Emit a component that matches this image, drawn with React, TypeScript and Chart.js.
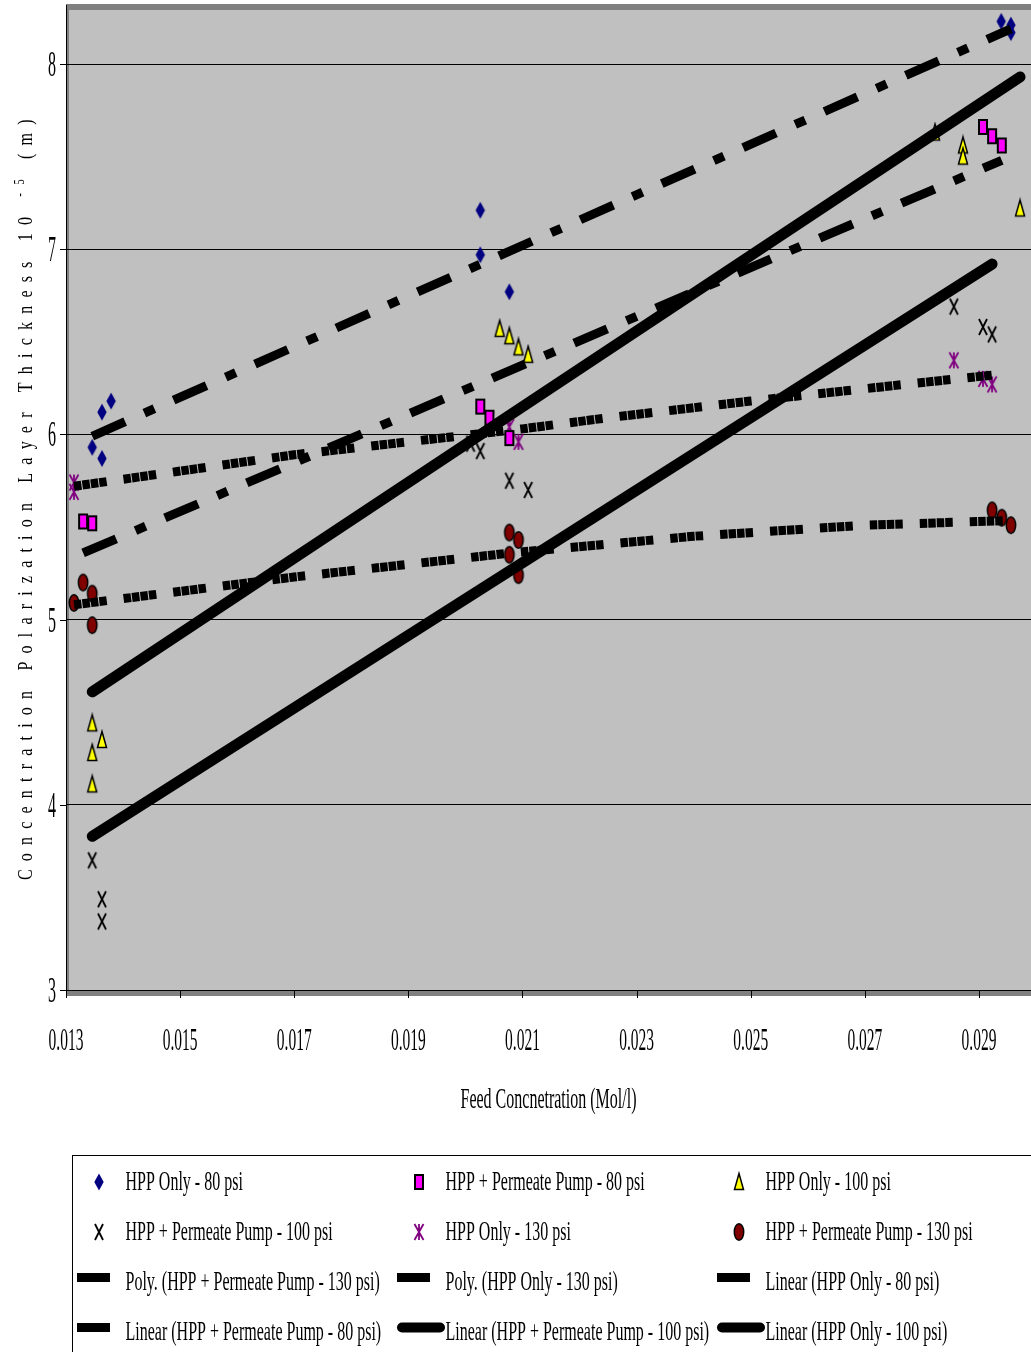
import React, { useEffect, useRef } from "react";
import { Chart, registerables } from "chart.js";

Chart.register(...registerables);

// Axis ticks
const X_TICKS = [0.013, 0.015, 0.017, 0.019, 0.021, 0.023, 0.025, 0.027, 0.029];
const X_TICK_LABELS = ["0.013", "0.015", "0.017", "0.019", "0.021", "0.023", "0.025", "0.027", "0.029"];
const Y_TICKS = [3, 4, 5, 6, 7, 8];
const Y_TICK_LABELS = ["3", "4", "5", "6", "7", "8"];

const X_TITLE = "Feed Concnetration (Mol/l)";
const Y_TITLE_MAIN = "Concentration Polarization Layer Thickness 10 ";
const Y_TITLE_SUP = "-5";
const Y_TITLE_END = " (m)";

// Measured series: feed concentration (Mol/l) vs layer thickness (10^-5 m)
const hppOnly80X = [0.01346, 0.01363, 0.01363, 0.01379, 0.02026, 0.02026, 0.02077, 0.02939, 0.02956, 0.02956];
const hppOnly80Y = [5.93, 5.87, 6.12, 6.18, 7.21, 6.97, 6.77, 8.23, 8.21, 8.17];

const hppPp80X = [0.0133, 0.01346, 0.02026, 0.02042, 0.02077, 0.02907, 0.02923, 0.0294];
const hppPp80Y = [5.53, 5.52, 6.15, 6.09, 5.98, 7.66, 7.61, 7.56];

const hppOnly100X = [0.01346, 0.01363, 0.01346, 0.01346, 0.0206, 0.02077, 0.02093, 0.0211, 0.02823, 0.02872, 0.02872, 0.02972];
const hppOnly100Y = [4.44, 4.35, 4.28, 4.11, 6.57, 6.53, 6.47, 6.43, 7.63, 7.56, 7.5, 7.22];

const hppPp100X = [0.01346, 0.01363, 0.01363, 0.02009, 0.02026, 0.02077, 0.0211, 0.02856, 0.02907, 0.02923];
const hppPp100Y = [3.7, 3.49, 3.37, 5.95, 5.91, 5.75, 5.7, 6.69, 6.58, 6.54];

const hppOnly130X = [0.01314, 0.01314, 0.02042, 0.02077, 0.02093, 0.02856, 0.02907, 0.02923];
const hppOnly130Y = [5.74, 5.69, 6.08, 6.04, 5.96, 6.4, 6.3, 6.27];

const hppPp130X = [0.01314, 0.0133, 0.01346, 0.01346, 0.02077, 0.02093, 0.02077, 0.02093, 0.02923, 0.0294, 0.02956];
const hppPp130Y = [5.09, 5.2, 5.14, 4.97, 5.47, 5.43, 5.35, 5.24, 5.59, 5.55, 5.51];

// Trend lines
const polyPp130X = [0.01314, 0.017, 0.0208, 0.024, 0.027, 0.02956];
const polyPp130Y = [5.08, 5.23, 5.36, 5.45, 5.51, 5.535];

const polyOnly130X = [0.01314, 0.017, 0.021, 0.0225, 0.025, 0.0277, 0.02923];
const polyOnly130Y = [5.72, 5.89, 6.03, 6.09, 6.18, 6.27, 6.32];

const linOnly80X = [0.01346, 0.02956];
const linOnly80Y = [5.99, 8.19];

const linPp80X = [0.0133, 0.0294];
const linPp80Y = [5.36, 7.48];

const linPp100X = [0.01346, 0.02923];
const linPp100Y = [3.83, 6.92];

const linOnly100X = [0.01346, 0.02972];
const linOnly100Y = [4.61, 7.93];

const SERIES_LABELS = [
  "HPP Only - 80 psi",
  "HPP + Permeate Pump - 80 psi",
  "HPP Only - 100 psi",
  "HPP + Permeate Pump - 100 psi",
  "HPP Only - 130 psi",
  "HPP + Permeate Pump - 130 psi",
  "Poly. (HPP + Permeate Pump - 130 psi)",
  "Poly. (HPP Only - 130 psi)",
  "Linear (HPP Only - 80 psi)",
  "Linear (HPP + Permeate Pump - 80 psi)",
  "Linear (HPP + Permeate Pump - 100 psi)",
  "Linear (HPP Only - 100 psi)",
];

const SERIES_X = [hppOnly80X, hppPp80X, hppOnly100X, hppPp100X, hppOnly130X, hppPp130X, polyPp130X, polyOnly130X, linOnly80X, linPp80X, linPp100X, linOnly100X];
const SERIES_Y = [hppOnly80Y, hppPp80Y, hppOnly100Y, hppPp100Y, hppOnly130Y, hppPp130Y, polyPp130Y, polyOnly130Y, linOnly80Y, linPp80Y, linPp100Y, linOnly100Y];

// Drawing styles
const MARKERS = ["diamond", "square", "triangle", "cross", "star", "circle"];
const LINE_STYLES = ["dotted", "dotted", "dashdot", "dashdot", "solid", "solid"];

const SERIF = "'Liberation Serif', 'Times New Roman', serif";
const PLOT_BG = "#C0C0C0";
const BAND = "#808080";

function makeMarker(kind: string): HTMLCanvasElement {
  const c = document.createElement("canvas");
  const w = 14;
  const h = 22;
  c.width = w;
  c.height = h;
  const g = c.getContext("2d")!;
  const cx = w / 2;
  const cy = h / 2;
  switch (kind) {
    case "diamond":
      g.beginPath();
      g.moveTo(cx, cy - 8.5);
      g.lineTo(cx + 4.7, cy);
      g.lineTo(cx, cy + 8.5);
      g.lineTo(cx - 4.7, cy);
      g.closePath();
      g.fillStyle = "#000080";
      g.fill();
      break;
    case "square":
      g.fillStyle = "#FF00FF";
      g.fillRect(cx - 4, cy - 7, 8, 14);
      g.lineWidth = 2;
      g.strokeStyle = "#000";
      g.strokeRect(cx - 4, cy - 7, 8, 14);
      break;
    case "triangle":
      g.beginPath();
      g.moveTo(cx, cy - 8.5);
      g.lineTo(cx + 4.5, cy + 7.5);
      g.lineTo(cx - 4.5, cy + 7.5);
      g.closePath();
      g.fillStyle = "#FFFF00";
      g.fill();
      g.lineWidth = 1.5;
      g.strokeStyle = "#000";
      g.stroke();
      break;
    case "cross":
      g.beginPath();
      g.moveTo(cx - 4, cy - 8);
      g.lineTo(cx + 4, cy + 8);
      g.moveTo(cx + 4, cy - 8);
      g.lineTo(cx - 4, cy + 8);
      g.lineWidth = 1.8;
      g.strokeStyle = "#000";
      g.stroke();
      break;
    case "star":
      g.beginPath();
      g.moveTo(cx - 4.5, cy - 8);
      g.lineTo(cx + 4.5, cy + 8);
      g.moveTo(cx + 4.5, cy - 8);
      g.lineTo(cx - 4.5, cy + 8);
      g.moveTo(cx, cy - 8);
      g.lineTo(cx, cy + 8);
      g.lineWidth = 1.8;
      g.strokeStyle = "#800080";
      g.stroke();
      break;
    case "circle":
      g.beginPath();
      g.ellipse(cx, cy, 4.7, 8.2, 0, 0, Math.PI * 2);
      g.fillStyle = "#800000";
      g.fill();
      g.lineWidth = 1.5;
      g.strokeStyle = "#000";
      g.stroke();
      break;
  }
  return c;
}

function dashFor(style: string): number[] {
  if (style === "dotted") return [7.5, 1, 7.5, 1, 7.5, 1, 7.5, 17];
  if (style === "dashdot") return [36, 21, 11, 21];
  return [];
}

function stretchedText(
  ctx: CanvasRenderingContext2D,
  text: string,
  x: number,
  y: number,
  size: number,
  ky: number,
  align: CanvasTextAlign
) {
  ctx.save();
  ctx.font = `${size}px ${SERIF}`;
  ctx.fillStyle = "#000";
  ctx.textAlign = align;
  ctx.textBaseline = "alphabetic";
  ctx.translate(x, y);
  ctx.scale(1, ky);
  ctx.fillText(text, 0, 0);
  ctx.restore();
}

export default function App() {
  const canvasRef = useRef<HTMLCanvasElement | null>(null);

  useEffect(() => {
    const canvas = canvasRef.current;
    if (!canvas) return;

    const markerImgs = MARKERS.map(makeMarker);

    const datasets: any[] = SERIES_LABELS.map((label, i) => {
      const data = SERIES_X[i].map((x, j) => ({ x, y: SERIES_Y[i][j] }));
      if (i < MARKERS.length) {
        return {
          label,
          data,
          showLine: false,
          pointStyle: markerImgs[i],
          pointRadius: 5,
          pointHoverRadius: 5,
          order: 1,
        };
      }
      const style = LINE_STYLES[i - MARKERS.length];
      return {
        label,
        data,
        showLine: true,
        borderColor: "#000",
        backgroundColor: "#000",
        borderWidth: style === "solid" ? 11 : 9,
        borderDash: dashFor(style),
        borderCapStyle: style === "solid" ? "round" : "butt",
        tension: 0,
        pointRadius: 0,
        pointHoverRadius: 0,
        order: 0,
        _lineStyle: style,
      };
    });

    const decor = {
      id: "decor",
      beforeDraw(chart: any) {
        const { ctx, chartArea: a } = chart;
        ctx.save();
        ctx.fillStyle = "#fff";
        ctx.fillRect(0, 0, chart.width, chart.height);
        ctx.fillStyle = PLOT_BG;
        ctx.fillRect(a.left, a.top, a.right - a.left, a.bottom - a.top);
        ctx.fillStyle = BAND;
        ctx.fillRect(a.left, 4, a.right - a.left, 6);
        ctx.fillRect(a.left, 4, 3, a.bottom - 4);
        ctx.fillRect(a.left, a.bottom + 1, a.right - a.left, 5);
        ctx.restore();
      },
      afterDraw(chart: any) {
        const { ctx, chartArea: a } = chart;
        const xs = chart.scales.x;
        const ys = chart.scales.y;
        ctx.save();
        // tick marks
        ctx.strokeStyle = "#000";
        ctx.lineWidth = 1;
        ctx.beginPath();
        X_TICKS.forEach((v) => {
          const px = Math.round(xs.getPixelForValue(v)) + 0.5;
          ctx.moveTo(px, a.bottom);
          ctx.lineTo(px, a.bottom + 8);
        });
        Y_TICKS.forEach((v) => {
          const py = Math.round(ys.getPixelForValue(v)) + 0.5;
          ctx.moveTo(a.left - 6, py);
          ctx.lineTo(a.left, py);
        });
        ctx.stroke();
        ctx.restore();

        // tick labels
        X_TICKS.forEach((v, i) => {
          stretchedText(ctx, X_TICK_LABELS[i], xs.getPixelForValue(v), 1050, 15.5, 2.1, "center");
        });
        Y_TICKS.forEach((v, i) => {
          stretchedText(ctx, Y_TICK_LABELS[i], 56, ys.getPixelForValue(v) + 12, 16, 2.2, "right");
        });

        // axis titles
        stretchedText(ctx, X_TITLE, (a.left + a.right) / 2, 1108, 16, 1.9, "center");

        ctx.save();
        ctx.translate(32, 880);
        ctx.rotate(-Math.PI / 2);
        ctx.scale(1, 1.35);
        ctx.fillStyle = "#000";
        ctx.textBaseline = "alphabetic";
        ctx.textAlign = "left";
        const spacing = 8.2;
        let pos = 0;
        ctx.font = `16px ${SERIF}`;
        for (const ch of Y_TITLE_MAIN) {
          ctx.fillText(ch, pos, 0);
          pos += ctx.measureText(ch).width + spacing;
        }
        ctx.font = `11px ${SERIF}`;
        for (const ch of Y_TITLE_SUP) {
          ctx.fillText(ch, pos, -6);
          pos += ctx.measureText(ch).width + spacing;
        }
        ctx.font = `16px ${SERIF}`;
        for (const ch of Y_TITLE_END) {
          ctx.fillText(ch, pos, 0);
          pos += ctx.measureText(ch).width + spacing;
        }
        ctx.restore();

        // legend
        ctx.save();
        ctx.strokeStyle = "#000";
        ctx.lineWidth = 1;
        ctx.strokeRect(72.5, 1155.5, 1100, 300);
        ctx.restore();

        const colX = [99, 419, 739];
        const rowY = [1182, 1232, 1282, 1332];
        chart.data.datasets.forEach((ds: any, i: number) => {
          const cx = colX[i % 3];
          const cy = rowY[Math.floor(i / 3)];
          if (!ds.showLine) {
            const img = ds.pointStyle as HTMLCanvasElement;
            ctx.drawImage(img, cx - img.width / 2, cy - img.height / 2);
          } else {
            ctx.save();
            ctx.fillStyle = "#000";
            ctx.strokeStyle = "#000";
            if (ds._lineStyle === "solid") {
              ctx.lineWidth = 10;
              ctx.lineCap = "round";
              ctx.beginPath();
              ctx.moveTo(cx - 17, cy - 4.5);
              ctx.lineTo(cx + 21, cy - 4.5);
              ctx.stroke();
            } else {
              ctx.fillRect(cx - 22, cy - 9, 33, 9);
            }
            ctx.restore();
          }
          stretchedText(ctx, ds.label, cx + 26.5, cy + 8, 16, 1.7, "left");
        });
      },
    };

    const chart = new Chart(canvas, {
      type: "scatter",
      data: { datasets },
      options: {
        responsive: false,
        animation: false,
        events: [],
        layout: { autoPadding: false, padding: { left: 66, top: 5, right: 0, bottom: 362 } },
        plugins: {
          legend: { display: false },
          tooltip: { enabled: false },
        },
        scales: {
          x: {
            type: "linear",
            min: 0.013,
            max: 0.029912,
            ticks: { display: false },
            grid: { display: false, drawTicks: false },
            border: { display: true, color: "#000", width: 1 },
            afterFit: (s: any) => {
              s.height = 0;
            },
          },
          y: {
            type: "linear",
            min: 3,
            max: 8.3186,
            ticks: { display: false, stepSize: 1, includeBounds: false },
            grid: { color: "#000", lineWidth: 1, drawTicks: false },
            border: { display: true, color: "#000", width: 1 },
            afterFit: (s: any) => {
              s.width = 0;
            },
          },
        },
      },
      plugins: [decor],
    } as any);

    return () => chart.destroy();
  }, []);

  return (
    <div style={{ position: "absolute", left: 0, top: 0, width: 1031, height: 1352, background: "#fff" }}>
      <canvas ref={canvasRef} width={1031} height={1352} style={{ display: "block", width: 1031, height: 1352 }} />
    </div>
  );
}
